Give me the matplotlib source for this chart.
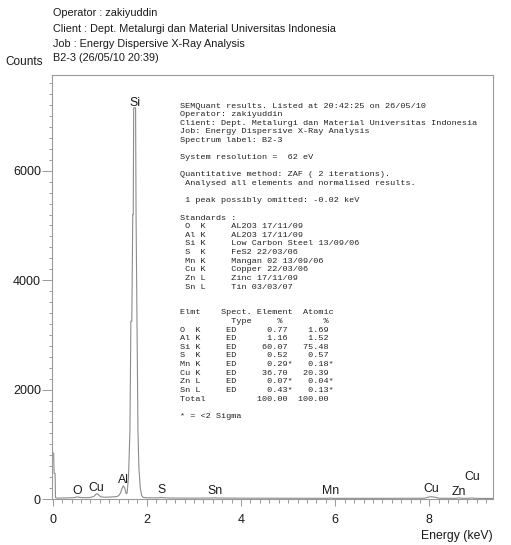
import numpy as np
import matplotlib as mpl
from matplotlib import pyplot as plt

mpl.rcParams.update({
    "font.family": ["Liberation Sans", "DejaVu Sans"],
})

# Spectrum outline (energy in keV, counts)
energy_kev = [0.00, 0.02, 0.03, 0.05, 0.06, 0.10, 0.20, 0.30, 0.40, 0.46,
              0.50, 0.53, 0.56, 0.60, 0.70, 0.80, 0.88, 0.92, 0.95, 0.98,
              1.02, 1.10, 1.20, 1.30, 1.36, 1.40, 1.44, 1.47, 1.50, 1.53,
              1.56, 1.58, 1.61, 1.64, 1.66, 1.68, 1.70, 1.71, 1.72, 1.76,
              1.77, 1.79, 1.81, 1.83, 1.86, 1.89, 1.92, 2.00, 2.20, 2.28,
              2.31, 2.35, 2.50, 3.00, 3.40, 3.45, 3.50, 4.00, 5.00, 5.85,
              5.90, 5.95, 7.00, 7.90, 7.98, 8.04, 8.10, 8.20, 8.55, 8.63,
              8.70, 8.85, 8.90, 8.95, 9.35]
counts = [840, 840, 470, 470, 25, 15, 18, 20, 22, 26,
          34, 38, 32, 26, 24, 28, 50, 90, 97, 70,
          40, 32, 35, 40, 45, 60, 110, 190, 240, 200,
          95, 110, 400, 1250, 3250, 3250, 5200, 5200, 7150, 7150,
          5200, 3250, 1250, 580, 200, 60, 30, 22, 20, 24,
          30, 22, 18, 16, 18, 24, 18, 15, 14, 12,
          18, 12, 12, 14, 35, 42, 35, 14, 12, 20,
          12, 14, 20, 12, 10]

# Peak identification labels
peak_names = ["O", "Cu", "Al", "Si", "S", "Sn", "Mn", "Cu", "Zn", "Cu"]
peak_energy = [0.53, 0.93, 1.50, 1.74, 2.31, 3.45, 5.89, 8.03, 8.63, 8.91]
peak_label_y = [150, 205, 350, 7245, 160, 150, 150, 175, 135, 400]

# Quantification table
elements = ["O  K", "Al K", "Si K", "S  K", "Mn K", "Cu K", "Zn L", "Sn L"]
weight_pct = [0.77, 1.16, 60.07, 0.52, 0.29, 36.70, 0.07, 0.43]
atomic_pct = [1.69, 1.52, 75.48, 0.57, 0.18, 20.39, 0.04, 0.13]
below_2sigma = [False, False, False, False, True, False, True, True]
total_pct = [100.00, 100.00]
standards = ["AL2O3 17/11/09", "AL2O3 17/11/09", "Low Carbon Steel 13/09/06",
             "FeS2 22/03/06", "Mangan 02 13/09/06", "Copper 22/03/06",
             "Zinc 17/11/09", "Tin 03/03/07"]

header = ["Operator : zakiyuddin",
          "Client : Dept. Metalurgi dan Material Universitas Indonesia",
          "Job : Energy Dispersive X-Ray Analysis",
          "B2-3 (26/05/10 20:39)"]
header_y = [12.5, 28.5, 44, 58]

W, H = 511, 545
fig = plt.figure(figsize=(W / 100, H / 100), dpi=100)


def fpos(x, y):
    # pixel position (from top-left) -> figure fraction
    return x / W, 1 - y / H


ax = fig.add_axes([52 / W, 1 - 499 / H, (493 - 52) / W, (499 - 75) / H])
frame_col = "#9a9a9a"
ax.plot(energy_kev, counts, color="#8c8c8c", lw=0.8)

ax.set_xlim(-0.015, 9.35)
ax.set_ylim(0, 7750)
ax.set_xticks([0, 2, 4, 6, 8])
ax.set_xticks(np.arange(0, 9.35, 0.2), minor=True)
ax.set_yticks([0, 2000, 4000, 6000])
ax.set_yticks(np.arange(0, 7750, 200), minor=True)
for s in ax.spines.values():
    s.set_color(frame_col)
    s.set_linewidth(0.8)
ax.tick_params(axis="both", which="both", direction="out", color=frame_col,
               labelcolor="#1a1a1a", labelsize=9, width=0.7)
ax.tick_params(axis="x", which="major", length=5, pad=6)
ax.tick_params(axis="x", which="minor", length=3)
ax.tick_params(axis="y", which="major", length=7, pad=1)
ax.tick_params(axis="y", which="minor", length=2)

for name, e, y in zip(peak_names, peak_energy, peak_label_y):
    ax.text(e, y, name, ha="center", va="center", fontsize=8.8, color="#1a1a1a")

# header and axis titles
for line, y in zip(header, header_y):
    fig.text(*fpos(53, y), line, ha="left", va="center",
             fontsize=7.85, color="#1a1a1a")
fig.text(*fpos(5, 62), "Counts", ha="left", va="center", fontsize=8.5, color="#1a1a1a")
fig.text(*fpos(493, 536), "Energy (keV)", ha="right", va="center", fontsize=8.8,
         color="#1a1a1a")

# SEMQuant report listing
report = ["SEMQuant results. Listed at 20:42:25 on 26/05/10",
          "Operator: zakiyuddin",
          "Client: Dept. Metalurgi dan Material Universitas Indonesia",
          "Job: Energy Dispersive X-Ray Analysis",
          "Spectrum label: B2-3",
          "",
          "System resolution =  62 eV",
          "",
          "Quantitative method: ZAF ( 2 iterations).",
          " Analysed all elements and normalised results.",
          "",
          " 1 peak possibly omitted: -0.02 keV",
          "",
          "Standards :"]
for el, std in zip(elements, standards):
    report.append(f" {el}     {std}")
report += ["", "",
           "Elmt    Spect. Element  Atomic",
           "          Type     %        %"]
for el, w, a, flag in zip(elements, weight_pct, atomic_pct, below_2sigma):
    star = "*" if flag else " "
    report.append(f"{el}     ED{w:>10.2f}{star}{a:>7.2f}{star}")
report.append(f"Total{total_pct[0]:>16.2f}{total_pct[1]:>8.2f}")
report += ["", "* = <2 Sigma"]

for i, line in enumerate(report):
    if line:
        fig.text(*fpos(180, 106 + i * 8.62), line, ha="left", va="center",
                 family="Liberation Mono", fontsize=6.1, color="#222222")

plt.savefig("out.png", dpi=100)
